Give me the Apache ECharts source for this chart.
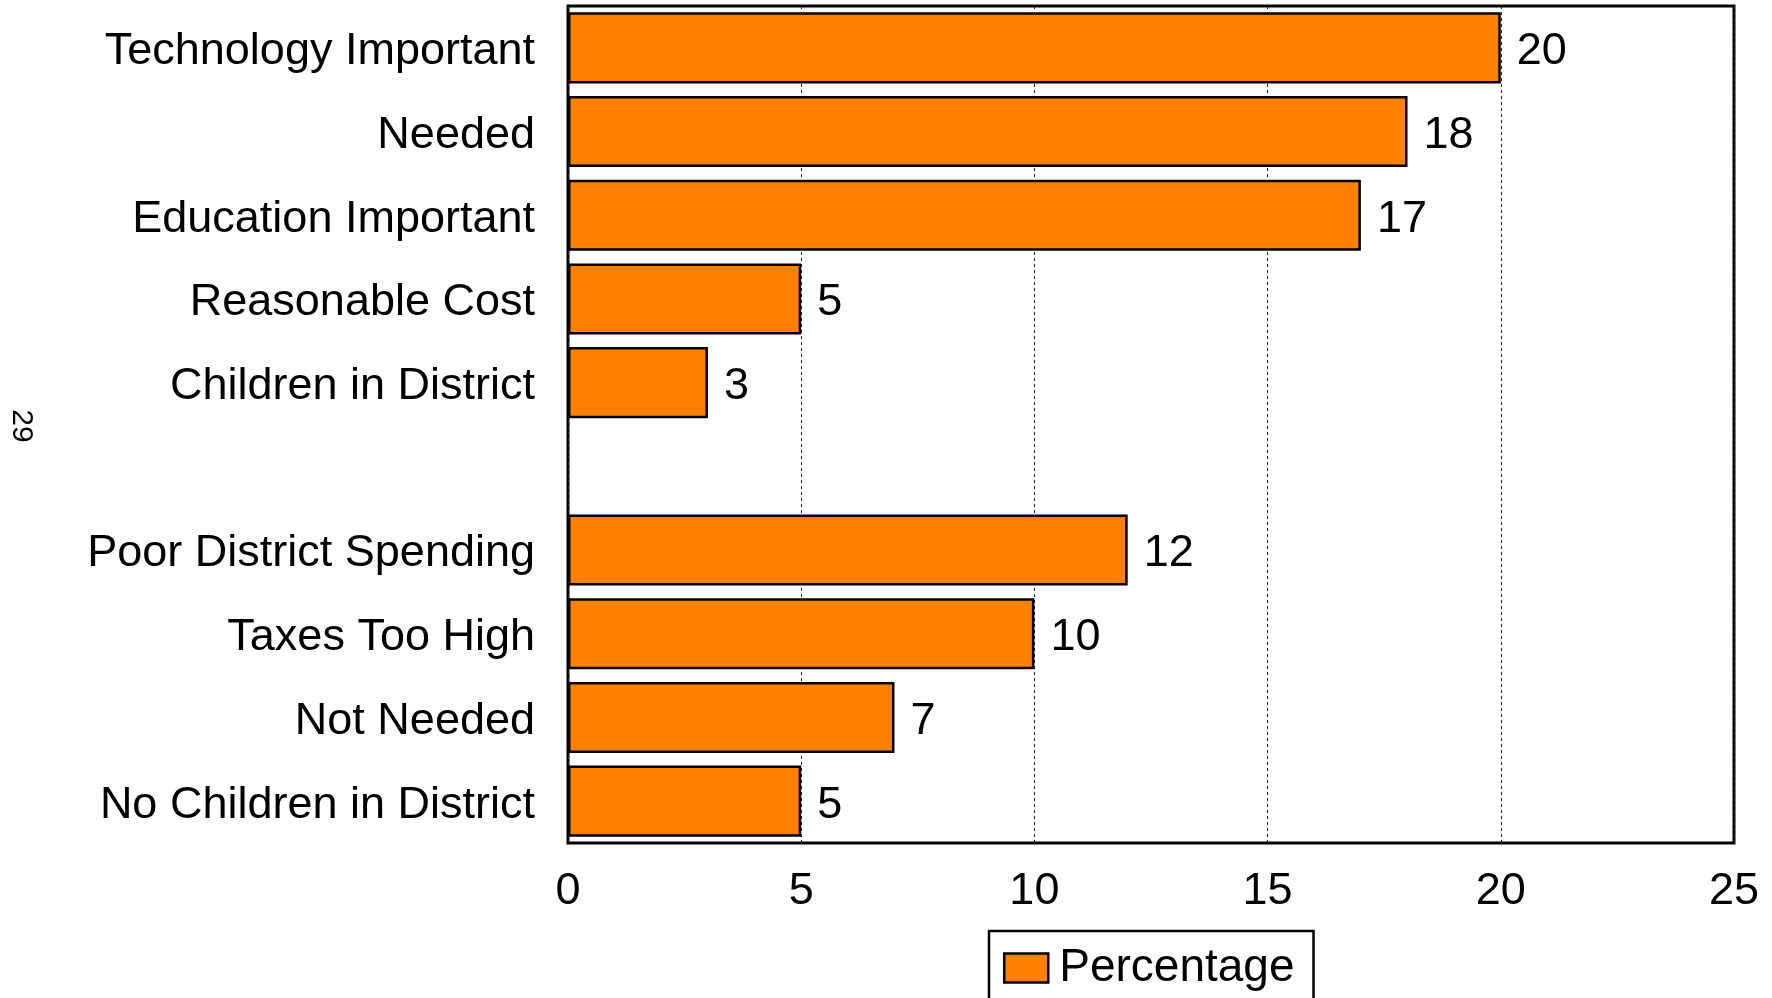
<!DOCTYPE html>
<html>
<head>
<meta charset="utf-8">
<script src="https://cdn.jsdelivr.net/npm/echarts@6/dist/echarts.min.js"></script>
<style>html,body{margin:0;padding:0;background:#fff}#c{width:1772px;height:998px}</style>
</head>
<body>
<div id="c"></div>
<script>
const categories = ["Technology Important","Needed","Education Important","Reasonable Cost","Children in District","","Poor District Spending","Taxes Too High","Not Needed","No Children in District"];
const percentages = [20,18,17,5,3,null,12,10,7,5];
const xTicks = [0,5,10,15,20,25];
const seriesName = "Percentage";
const pageNumber = "29";

const FONT = "'Liberation Sans', Arial, sans-serif";
const chart = echarts.init(document.getElementById('c'), null, {renderer:'canvas'});
chart.setOption({
  animation:false,
  backgroundColor:'#fff',
  grid:{left:568, top:6, right:38, bottom:155, show:true, borderColor:'#000', borderWidth:3, backgroundColor:'transparent'},
  xAxis:{type:'value', min:xTicks[0], max:xTicks[xTicks.length-1], interval:5,
    axisLine:{show:false}, axisTick:{show:false},
    splitLine:{show:true, lineStyle:{color:'#222', type:[3,3], width:1}},
    axisLabel:{fontFamily:FONT, fontSize:45, color:'#000', margin:26,
      formatter:v=>xTicks.includes(v)?String(v):''}},
  yAxis:{type:'category', data:categories, inverse:true,
    axisLine:{show:false}, axisTick:{show:false}, splitLine:{show:false},
    axisLabel:{fontFamily:FONT, fontSize:45, color:'#000', margin:33,
      formatter:v=>'{a|'+v+'}', rich:{a:{fontFamily:FONT, fontSize:45, color:'#000', padding:[8,0,0,0]}}}},
  legend:{show:true, data:[seriesName], left:989, top:931, orient:'horizontal',
    icon:'rect', itemWidth:44, itemHeight:29, padding:[14,19,30,14],
    borderColor:'#000', borderWidth:2.5, backgroundColor:'#fff',
    textStyle:{fontFamily:FONT, fontSize:46, color:'#000', padding:[4,0,0,6]},
    itemStyle:{borderColor:'#000', borderWidth:2.5}},
  series:[{type:'bar', name:seriesName, data:percentages, barCategoryGap:'15%',
    itemStyle:{color:'#FF8000', borderColor:'#000', borderWidth:2.5},
    label:{show:true, position:'right', distance:16, offset:[0,4], fontFamily:FONT, fontSize:45, color:'#000'}}],
  graphic:[{type:'text', x:21, y:426, rotation:-Math.PI/2,
    style:{text:pageNumber, fontFamily:FONT, fontSize:30, fill:'#000', align:'center', verticalAlign:'middle'}}]
});
</script>
</body>
</html>
